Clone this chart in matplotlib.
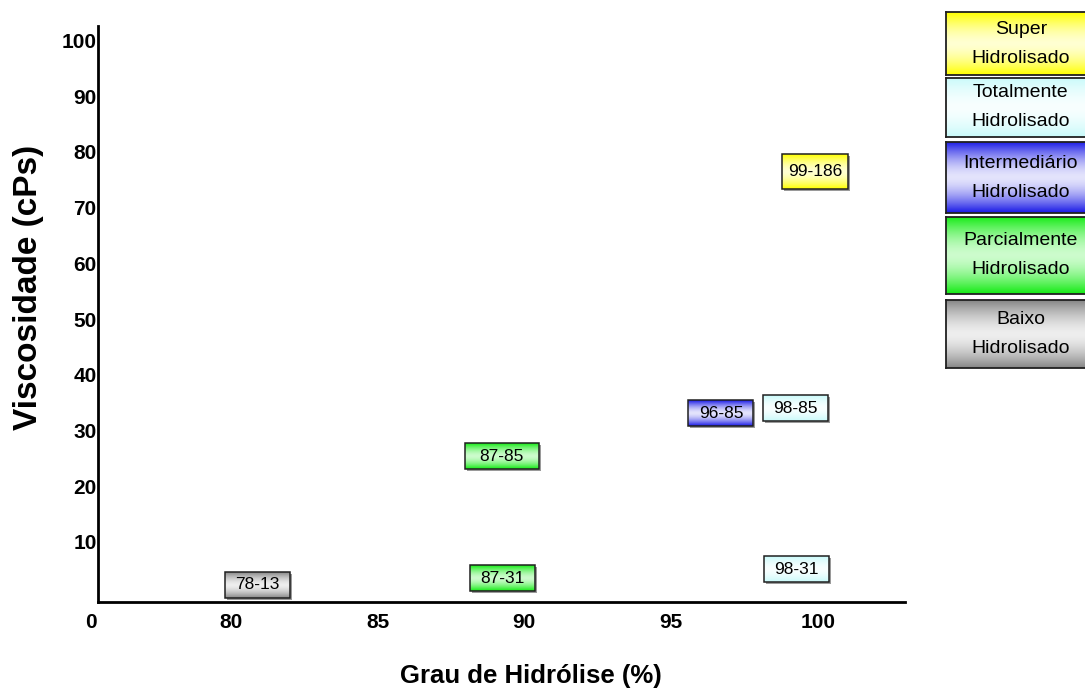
import numpy as np
import matplotlib
matplotlib.use("Agg")
import matplotlib.pyplot as plt
from matplotlib.patches import Rectangle
from matplotlib.transforms import ScaledTranslation

plt.rcParams['font.family'] = ['Liberation Sans', 'DejaVu Sans']

# grades of PVA: hydrolysis degree (%) vs viscosity (cPs)
grades = ["78-13", "87-31", "87-85", "96-85", "98-31", "98-85", "99-186"]
hydrolysis = [80.9, 89.25, 89.23, 96.7, 99.27, 99.25, 99.9]
viscosity = [2.3, 3.5, 25.4, 33.1, 5.1, 34.0, 76.4]
grade_class = ["Baixo", "Parcialmente", "Parcialmente", "Intermediário",
               "Totalmente", "Totalmente", "Super"]

legend_classes = ["Super", "Totalmente", "Intermediário", "Parcialmente", "Baixo"]
x_ticks = [80, 85, 90, 95, 100]
y_ticks = [10, 20, 30, 40, 50, 60, 70, 80, 90, 100]

# gradient colours: (edge, centre)
class_colors = {
    "Super": ((255, 255, 0), (255, 255, 210)),
    "Totalmente": ((200, 250, 250), (248, 255, 255)),
    "Intermediário": ((25, 25, 230), (228, 228, 252)),
    "Parcialmente": ((20, 235, 20), (205, 252, 205)),
    "Baixo": ((135, 135, 135), (238, 238, 238)),
}


def gradient(name, n=64):
    edge, centre = [np.array(c) / 255 for c in class_colors[name]]
    t = np.abs(np.linspace(-1, 1, n)) ** 1.6
    rgb = centre[None, :] + (edge - centre)[None, :] * t[:, None]
    return rgb[:, None, :]


fig = plt.figure(figsize=(10.85, 6.95), dpi=100)
ax = fig.add_axes([0.0903, 0.1338, 0.7435, 0.8288])

# label boxes (width, height in inches)
box_size = {"87-85": (0.74, 0.26), "99-186": (0.66, 0.35)}
for x, y, g, c in zip(hydrolysis, viscosity, grades, grade_class):
    w, h = box_size.get(g, (0.65, 0.26))
    tr = fig.dpi_scale_trans + ScaledTranslation(x, y, ax.transData)
    ax.add_patch(Rectangle((-w / 2 + 0.02, -h / 2 - 0.02), w, h, transform=tr,
                           fc='#9a9a9a', ec='none', zorder=2))
    ax.imshow(gradient(c), extent=(-w / 2, w / 2, -h / 2, h / 2), transform=tr,
              aspect='auto', interpolation='bilinear', zorder=3)
    ax.add_patch(Rectangle((-w / 2, -h / 2), w, h, transform=tr,
                           fill=False, ec='#202020', lw=1.1, zorder=4))
    ax.text(x, y, g, ha='center', va='center', fontsize=12.5, zorder=5)

ax.set_xlim(75.47, 102.96)
ax.set_ylim(-0.77, 102.6)
ax.set_xticks([75.47] + x_ticks)
ax.set_xticklabels(["0"] + [str(v) for v in x_ticks], fontsize=15, fontweight='bold')
ax.set_yticks(y_ticks)
ax.set_yticklabels([str(v) for v in y_ticks], fontsize=15, fontweight='bold')
ax.tick_params(axis='x', length=0, pad=8)
ax.tick_params(axis='y', length=0, pad=1)
ax.get_xticklabels()[0].set_transform(
    ax.get_xticklabels()[0].get_transform() + ScaledTranslation(-0.07, 0, fig.dpi_scale_trans))
for s in ['top', 'right']:
    ax.spines[s].set_visible(False)
for s in ['left', 'bottom']:
    ax.spines[s].set_linewidth(2)

fig.text(0.489, 0.027, "Grau de Hidrólise (%)", ha='center', va='center',
         fontsize=18.5, fontweight='bold')
fig.text(0.026, 0.586, "Viscosidade (cPs)", ha='center', va='center',
         rotation=90, fontsize=24, fontweight='bold')

# legend boxes on the right
legend_pos = [(0.892, 0.0906), (0.8029, 0.0849), (0.6935, 0.1022),
              (0.577, 0.1108), (0.4705, 0.0978)]
for name, (b, h) in zip(legend_classes, legend_pos):
    lax = fig.add_axes([0.8719, b, 0.138, h])
    lax.imshow(gradient(name), extent=(0, 1, 0, 1), aspect='auto', interpolation='bilinear')
    lax.set_xlim(0, 1)
    lax.set_ylim(0, 1)
    lax.set_xticks([])
    lax.set_yticks([])
    for sp in lax.spines.values():
        sp.set_linewidth(1.3)
        sp.set_color('#202020')
    for line, dy in [(name, 0.145), ("Hidrolisado", -0.145)]:
        lax.text(0.5, 0.5, line, ha='center', va='center', fontsize=14,
                 transform=lax.transAxes + ScaledTranslation(0, dy, fig.dpi_scale_trans))

fig.savefig("out.png", dpi=100)
